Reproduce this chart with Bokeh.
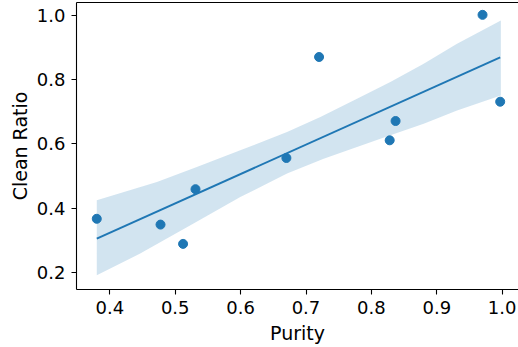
import numpy as np
from bokeh.plotting import figure
from bokeh.models import LinearAxis, FixedTicker, Range1d, PrintfTickFormatter
from bokeh.embed import file_html
from bokeh.resources import INLINE

# Data
purity = [0.380, 0.4775, 0.512, 0.531, 0.670, 0.720, 0.828, 0.837, 0.970, 0.997]
clean_ratio = [0.367, 0.349, 0.289, 0.459, 0.556, 0.870, 0.611, 0.671, 1.001, 0.731]

# Confidence band edges
band_upper_x = [0.380, 0.472, 0.533, 0.5995, 0.671, 0.722, 0.778, 0.829, 0.880, 0.931, 0.998]
band_upper_y = [0.4245, 0.4814, 0.528, 0.5798, 0.6366, 0.6832, 0.7404, 0.7919, 0.849, 0.911, 0.9835]
band_lower_x = [0.380, 0.4464, 0.528, 0.5995, 0.671, 0.727, 0.778, 0.829, 0.880, 0.931, 0.998]
band_lower_y = [0.1916, 0.259, 0.352, 0.4348, 0.5075, 0.554, 0.590, 0.6264, 0.6627, 0.704, 0.7506]

x_ticks = [0.4, 0.5, 0.6, 0.7, 0.8, 0.9, 1.0]
y_ticks = [0.2, 0.4, 0.6, 0.8, 1.0]

BLUE = "#1f77b4"
FONT = "DejaVu Sans"

p = figure(width=518, height=347, output_backend="svg", toolbar_location=None,
           x_range=Range1d(0.349, 1.025), y_range=Range1d(0.1472, 1.0394),
           min_border_left=76, min_border_right=0, min_border_top=2, min_border_bottom=58)
p.outline_line_color = None
p.xgrid.visible = False
p.ygrid.visible = False
p.background_fill_color = "white"
p.border_fill_color = "white"

# band
xs = band_upper_x + band_lower_x[::-1]
ys = band_upper_y + band_lower_y[::-1]
p.patch(xs, ys, fill_color=BLUE, fill_alpha=0.2, line_color=None)

# regression line (OLS fit of the data)
coef = np.polyfit(purity, clean_ratio, 1)
lx = [min(purity), max(purity)]
ly = [coef[0] * v + coef[1] for v in lx]
p.line(lx, ly, line_color=BLUE, line_width=2)

p.scatter(purity, clean_ratio, size=9, marker="circle", fill_color=BLUE, line_color=BLUE)

for ax in (p.xaxis[0], p.yaxis[0]):
    ax.axis_line_color = "black"
    ax.axis_line_width = 1.1
    ax.major_tick_line_color = "black"
    ax.major_tick_line_width = 1.1
    ax.major_tick_out = 5
    ax.major_tick_in = 0
    ax.minor_tick_line_color = None
    ax.major_label_text_font = FONT
    ax.major_label_text_font_size = "18px"
    ax.major_label_text_color = "black"
    ax.axis_label_text_font = FONT
    ax.axis_label_text_font_size = "19px"
    ax.axis_label_text_font_style = "normal"
    ax.axis_label_text_color = "black"
    ax.major_label_standoff = 6
    ax.formatter = PrintfTickFormatter(format="%.1f")

p.xaxis[0].ticker = FixedTicker(ticks=x_ticks)
p.yaxis[0].ticker = FixedTicker(ticks=y_ticks)
p.xaxis[0].axis_label = "Purity"
p.yaxis[0].axis_label = "Clean Ratio"
p.xaxis[0].axis_label_standoff = 5
p.yaxis[0].axis_label_standoff = 3

top = LinearAxis(ticker=FixedTicker(ticks=[]), axis_line_color="black", axis_line_width=1.1,
                 major_tick_out=0, major_tick_in=0, minor_tick_out=0, minor_tick_in=0,
                 major_label_standoff=0, axis_label_standoff=0,
                 major_label_text_font_size="0px")
p.add_layout(top, "above")

open("out.html", "w").write(file_html(p, INLINE))
